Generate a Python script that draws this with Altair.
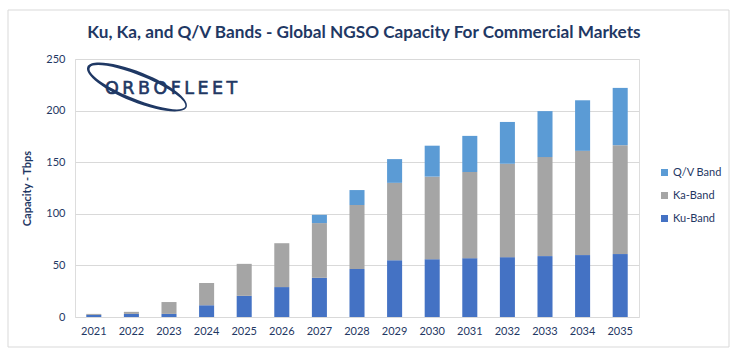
import altair as alt
import pandas as pd

years = [str(y) for y in range(2021, 2036)]
ku_band = [2, 3, 3, 11.5, 20.5, 29, 38, 46.5, 55, 56, 57, 58, 59, 60, 61]
ka_band = [1, 2, 11.5, 21.5, 31, 42.5, 53, 62, 75, 80, 83.5, 90.5, 96, 101, 105.5]
qv_band = [0, 0, 0, 0, 0, 0, 8, 14.5, 23, 30, 35, 40.5, 44.5, 49, 55.5]

series_names = ["Q/V Band", "Ka-Band", "Ku-Band"]
series_colors = ["#5B9BD5", "#A5A5A5", "#4472C4"]
y_ticks = [0, 50, 100, 150, 200, 250]

TITLE = "Ku, Ka, and Q/V Bands - Global NGSO Capacity For Commercial Markets"
Y_TITLE = "Capacity - Tbps"
LOGO = "\u2009".join("ORBOFLEET")

NAVY = "#1F3864"
FONT = "Lato"

rows = []
for i, yr in enumerate(years):
    rows.append({"year": yr, "band": "Ku-Band", "value": ku_band[i], "stack": 0})
    rows.append({"year": yr, "band": "Ka-Band", "value": ka_band[i], "stack": 1})
    rows.append({"year": yr, "band": "Q/V Band", "value": qv_band[i], "stack": 2})
df = pd.DataFrame(rows)

W, H = 564, 258
PAD_L, PAD_T = 75, 59

bars = alt.Chart(df).mark_bar().encode(
    x=alt.X("year:N", sort=years,
            scale=alt.Scale(paddingInner=0.6, paddingOuter=0.3),
            axis=alt.Axis(title=None, labelAngle=0, ticks=False, domain=False,
                          labelPadding=8, labelFontSize=11, labelColor=NAVY,
                          labelFont=FONT)),
    y=alt.Y("value:Q", stack="zero",
            scale=alt.Scale(domain=[0, 250], nice=False),
            axis=alt.Axis(values=y_ticks, title=Y_TITLE, ticks=False, domain=False,
                          labelPadding=10, labelFontSize=11, labelColor=NAVY,
                          labelFont=FONT, gridColor="#D9D9D9",
                          titleFont=FONT, titleFontSize=11, titleFontWeight="bold",
                          titleColor=NAVY, titleX=-48, titleY=H / 2,
                          titleAngle=-90, titleAlign="center", titleBaseline="middle")),
    color=alt.Color("band:N",
                    scale=alt.Scale(domain=series_names, range=series_colors),
                    legend=alt.Legend(title=None, orient="none", legendX=584, legendY=108,
                                      symbolType="square", symbolSize=49,
                                      symbolStrokeWidth=0, labelFontSize=11,
                                      labelColor=NAVY, labelFont=FONT,
                                      rowPadding=11, labelOffset=3, padding=0)),
    order=alt.Order("stack:Q", sort="ascending"),
)

frame = alt.Chart(pd.DataFrame({"a": [0]})).mark_rect(
    fill=None, stroke="#D9D9D9", strokeWidth=1
).encode(
    x=alt.value(8 - PAD_L), x2=alt.value(729 - PAD_L),
    y=alt.value(10 - PAD_T), y2=alt.value(347 - PAD_T),
)

title_mark = alt.Chart(pd.DataFrame({"t": [TITLE]})).mark_text(
    font=FONT, fontSize=17.2, fontWeight="bold", color=NAVY,
    align="center", baseline="middle"
).encode(
    x=alt.value(364 - PAD_L), y=alt.value(33 - PAD_T), text="t:N",
)

orbit_path = ("M -1 0 A 1 0.28 0 1 1 1 0 A 1 0.28 0 1 1 -1 0 Z "
              "M -0.95 -0.01 A 0.96 0.22 0 1 0 0.97 0.01 A 0.96 0.22 0 1 0 -0.95 -0.01 Z")
orbit = alt.Chart(pd.DataFrame({"a": [0]})).mark_point(
    shape=orbit_path, filled=True, color=NAVY, opacity=1, size=11500, angle=22
).encode(
    x=alt.value(137 - PAD_L), y=alt.value(87 - PAD_T),
)

logo = alt.Chart(pd.DataFrame({"t": [LOGO]})).mark_text(
    font="DejaVu Sans", fontSize=17.5, color=NAVY, stroke=NAVY, strokeWidth=0.6,
    align="left", baseline="alphabetic"
).encode(
    x=alt.value(105 - PAD_L), y=alt.value(94 - PAD_T), text="t:N",
)

chart = alt.layer(frame, bars, orbit, logo, title_mark).properties(
    width=W, height=H,
    autosize=alt.AutoSizeParams(type="none"),
    padding={"left": PAD_L, "top": PAD_T, "right": 755 - PAD_L - W, "bottom": 353 - PAD_T - H},
).configure_view(stroke=None).configure(background="white")

chart.save("out.html", embed_options={"renderer": "svg", "actions": False})
